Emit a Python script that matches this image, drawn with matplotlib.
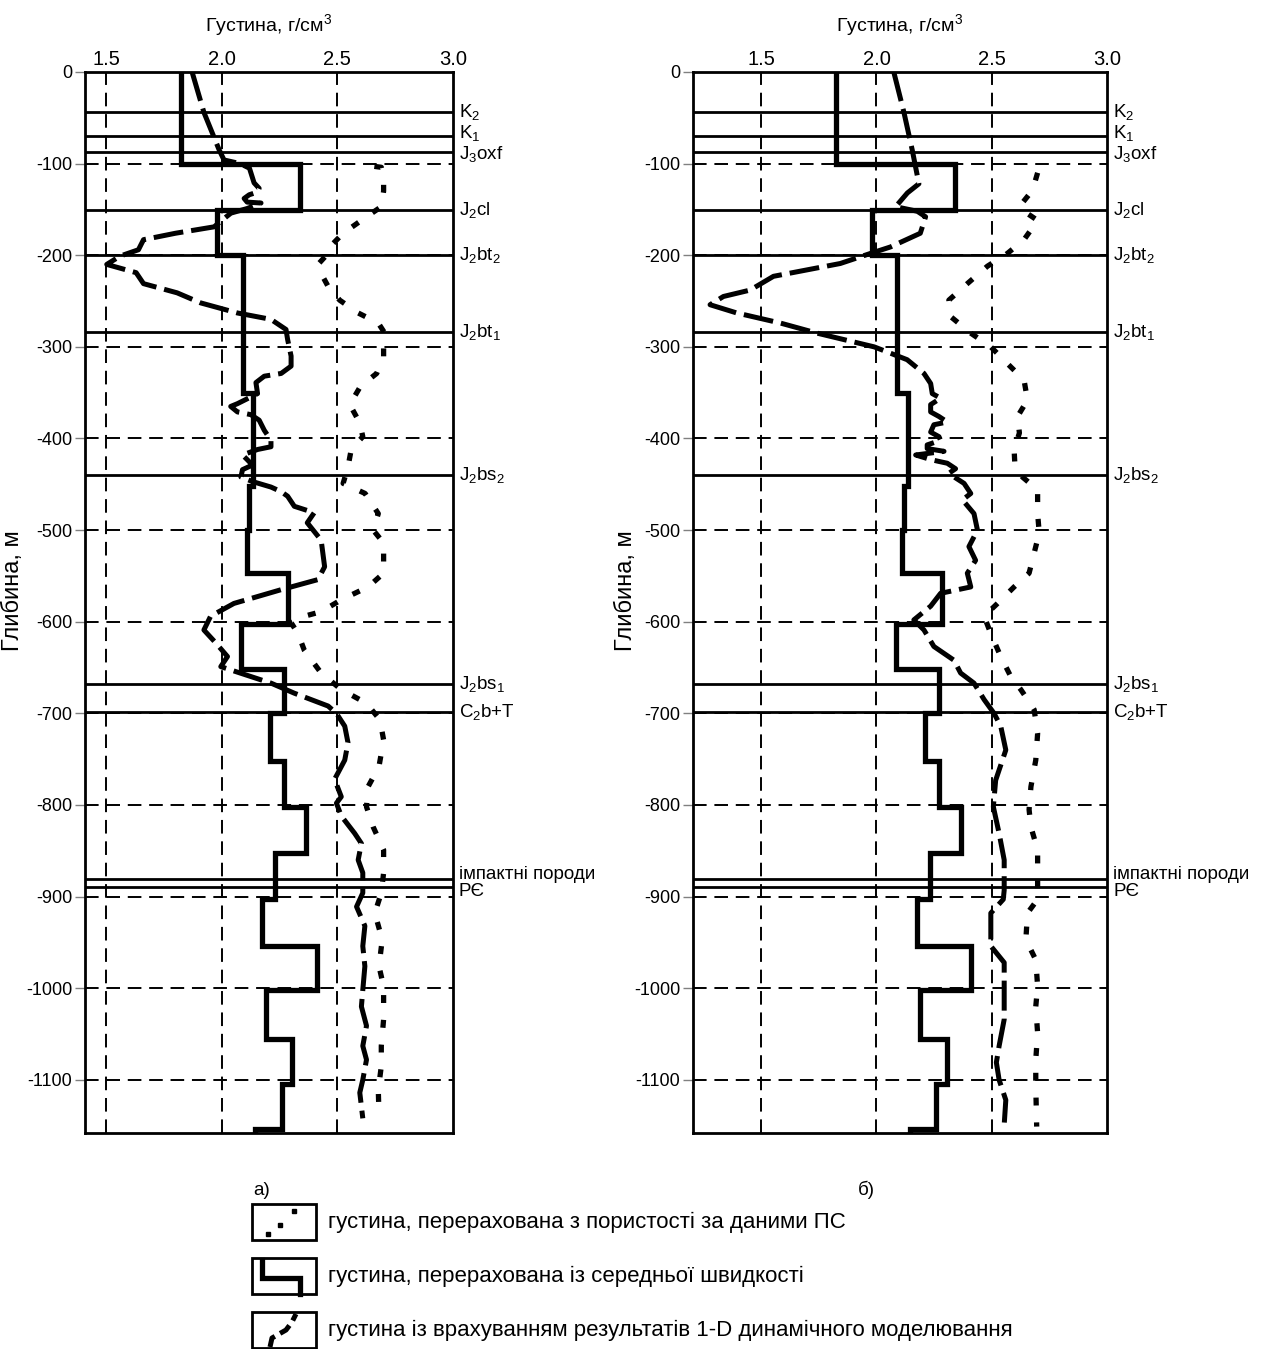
import matplotlib
matplotlib.use("Agg")
import matplotlib.pyplot as plt
from matplotlib.patches import Rectangle

plt.rcParams["font.family"] = ["Liberation Sans", "DejaVu Sans"]
plt.rcParams["mathtext.default"] = "regular"
plt.rcParams["axes.unicode_minus"] = False

# --- стратиграфічні межі, м ---
horizon_depth = [-44, -70, -87, -151, -200, -284, -440, -668, -699, -881, -889]
horizon_label = ["K$_2$", "K$_1$", "J$_3$oxf", "J$_2$cl", "J$_2$bt$_2$", "J$_2$bt$_1$",
                 "J$_2$bs$_2$", "J$_2$bs$_1$", "C$_2$b+T", "імпактні породи", "PЄ"]
label_shift = [0, 3, -2, 0, 0, 0, 0, 0, 0, 5, -5]

# --- густина із середньої швидкості (ступінчаста), покрівля / густина ---
step_top = [0, -100, -151, -200, -350, -452, -500, -547, -602, -652, -700, -752,
            -802, -852, -903, -954, -1002, -1055, -1105, -1154]
step_rho = [1.825, 2.34, 1.98, 2.09, 2.135, 2.12, 2.11, 2.285, 2.085, 2.27, 2.21, 2.27,
            2.365, 2.23, 2.175, 2.41, 2.19, 2.305, 2.26, 2.145]
depth_bottom = -1158

# --- а) густина з пористості за даними ПС ---
a_ps_depth = [-103, -104, -115, -130, -147, -158, -176, -191, -198, -209, -220, -234,
              -249, -263, -274, -285, -300, -311, -329, -343, -363, -383, -398, -412,
              -431, -449, -460, -482, -500, -514, -547, -562, -576, -589, -594, -601,
              -613, -631, -656, -674, -689, -707, -729, -758, -780, -802, -824, -849,
              -874, -896, -918, -947, -976, -998, -1034, -1063, -1085, -1111, -1138]
a_ps_rho = [2.66, 2.69, 2.70, 2.70, 2.69, 2.626, 2.525, 2.467, 2.46, 2.42, 2.43, 2.46,
            2.51, 2.59, 2.677, 2.705, 2.70, 2.70, 2.67, 2.60, 2.554, 2.597, 2.61, 2.56,
            2.546, 2.525, 2.62, 2.677, 2.655, 2.70, 2.70, 2.633, 2.517, 2.43, 2.357, 2.30,
            2.33, 2.357, 2.43, 2.517, 2.626, 2.684, 2.70, 2.68, 2.633, 2.626, 2.655, 2.70,
            2.70, 2.69, 2.662, 2.694, 2.68, 2.70, 2.70, 2.69, 2.69, 2.677, 2.68]

# --- а) густина з 1-D динамічного моделювання ---
a_dyn_depth = [0, -44, -85, -96, -100, -105, -121, -127, -131, -134, -138, -142, -143,
               -149, -154, -158, -169, -176, -183, -194, -201, -210, -219, -231, -241,
               -252, -263, -270, -281, -292, -310, -321, -329, -332, -339, -351, -362,
               -365, -371, -374, -380, -391, -402, -409, -412, -418, -423, -429, -434,
               -442, -447, -453, -458, -463, -474, -481, -492, -511, -540, -554, -565,
               -580, -594, -609, -623, -638, -649, -656, -667, -678, -692, -700, -714,
               -732, -751, -772, -791, -798, -812, -831, -842, -860, -874, -896, -911,
               -932, -954, -976, -1002, -1020, -1041, -1063, -1078, -1100, -1114,
               -1129, -1142]
a_dyn_rho = [1.872, 1.923, 1.989, 2.01, 2.08, 2.12, 2.14, 2.162, 2.155, 2.119, 2.097,
             2.11, 2.17, 2.11, 2.04, 2.02, 1.967, 1.80, 1.662, 1.64, 1.56, 1.503, 1.63,
             1.662, 1.807, 1.909, 2.068, 2.213, 2.278, 2.285, 2.30, 2.30, 2.257, 2.184,
             2.148, 2.155, 2.068, 2.039, 2.068, 2.126, 2.162, 2.184, 2.213, 2.213, 2.155,
             2.09, 2.11, 2.133, 2.09, 2.083, 2.133, 2.213, 2.257, 2.285, 2.314, 2.40,
             2.37, 2.43, 2.445, 2.416, 2.257, 2.053, 1.952, 1.923, 1.974, 2.025, 1.996,
             2.08, 2.213, 2.314, 2.46, 2.496, 2.532, 2.546, 2.532, 2.488, 2.517, 2.496,
             2.517, 2.575, 2.604, 2.59, 2.61, 2.61, 2.583, 2.619, 2.61, 2.619, 2.61,
             2.604, 2.626, 2.61, 2.626, 2.61, 2.597, 2.604, 2.61]

# --- б) густина з пористості за даними ПС ---
b_ps_depth = [-110, -129, -145, -152, -162, -183, -198, -212, -231, -249, -267, -285,
              -300, -322, -336, -358, -376, -394, -412, -427, -442, -456, -482, -503,
              -525, -547, -562, -580, -594, -613, -638, -660, -674, -693, -696, -722,
              -751, -780, -805, -824, -849, -889, -903, -918, -947, -969, -998, -1020,
              -1049, -1078, -1107, -1151]
b_ps_rho = [2.699, 2.677, 2.626, 2.64, 2.699, 2.64, 2.568, 2.481, 2.394, 2.314, 2.322,
            2.409, 2.496, 2.583, 2.64, 2.655, 2.612, 2.62, 2.597, 2.60, 2.633, 2.699,
            2.699, 2.706, 2.684, 2.662, 2.597, 2.525, 2.467, 2.496, 2.539, 2.583, 2.626,
            2.677, 2.684, 2.699, 2.691, 2.67, 2.662, 2.67, 2.699, 2.699, 2.699, 2.655,
            2.648, 2.691, 2.699, 2.691, 2.699, 2.691, 2.691, 2.695]

# --- б) густина з 1-D динамічного моделювання ---
b_dyn_depth = [0, -44, -85, -122, -132, -147, -152, -158, -176, -191, -198, -209, -223,
               -238, -245, -254, -263, -274, -285, -300, -314, -329, -340, -351, -356,
               -363, -371, -376, -382, -385, -393, -398, -402, -407, -411, -414, -418,
               -423, -425, -427, -433, -438, -443, -449, -460, -467, -482, -500, -518,
               -533, -547, -562, -569, -583, -598, -609, -627, -642, -656, -667, -685,
               -700, -714, -740, -773, -802, -831, -860, -893, -903, -918, -954, -972,
               -1002, -1034, -1063, -1081, -1100, -1122, -1149]
b_dyn_rho = [2.075, 2.119, 2.155, 2.184, 2.134, 2.083, 2.177, 2.213, 2.19, 2.06, 1.974,
             1.843, 1.553, 1.452, 1.336, 1.278, 1.394, 1.583, 1.742, 1.99, 2.133, 2.206,
             2.235, 2.242, 2.278, 2.235, 2.235, 2.271, 2.307, 2.249, 2.235, 2.271, 2.278,
             2.22, 2.22, 2.293, 2.17, 2.235, 2.27, 2.307, 2.343, 2.314, 2.343, 2.38,
             2.409, 2.373, 2.423, 2.438, 2.401, 2.43, 2.394, 2.409, 2.278, 2.235, 2.162,
             2.206, 2.249, 2.336, 2.365, 2.423, 2.467, 2.51, 2.539, 2.561, 2.517, 2.507,
             2.532, 2.554, 2.554, 2.55, 2.496, 2.496, 2.554, 2.554, 2.554, 2.532, 2.52,
             2.532, 2.561, 2.554]

x_ticks = [1.5, 2.0, 2.5, 3.0]
y_ticks = list(range(0, -1200, -100))


def step_xy(tops, rhos, bottom):
    """Ступінчаста крива: вертикальні відрізки по шарах + горизонтальні переходи."""
    xs, ys = [], []
    bases = tops[1:] + [bottom]
    for top, base, rho in zip(tops, bases, rhos):
        xs += [rho, rho]
        ys += [top, base]
    return xs, ys


def draw_panel(ax, xlim, ps, dyn, tag, tag_x, ylab_x):
    ax.set_xlim(*xlim)
    ax.set_ylim(depth_bottom, 0)

    # сітка
    for xv in x_ticks[:-1]:
        ax.axvline(xv, color="black", lw=1.4, ls=(0, (7, 4)), zorder=1)
    for yv in y_ticks[1:]:
        ax.axhline(yv, color="black", lw=1.4, ls=(0, (7, 4)), zorder=1)

    # стратиграфічні межі
    for d, lab, sh in zip(horizon_depth, horizon_label, label_shift):
        ax.axhline(d, color="black", lw=2.0, zorder=2)
        ax.text(1.015, d + sh, lab, transform=ax.get_yaxis_transform(),
                ha="left", va="center", fontsize=13.5, clip_on=False)

    sx, sy = step_xy(step_top, step_rho, depth_bottom)
    ax.plot(sx, sy, color="black", lw=3.8, solid_joinstyle="miter", zorder=4)
    ax.plot(ps[0], ps[1], color="black", lw=3.8, ls=(0, (1.5, 3.2)),
            dash_capstyle="butt", zorder=3)
    ax.plot(dyn[0], dyn[1], color="black", lw=3.6, ls=(0, (6, 1.6)),
            dash_capstyle="butt", zorder=3)

    ax.xaxis.tick_top()
    ax.xaxis.set_label_position("top")
    ax.set_xticks(x_ticks)
    ax.set_xticklabels([f"{v:.1f}" for v in x_ticks])
    ax.tick_params(axis="x", length=0, pad=2, labelsize=14.5)
    ax.set_yticks(y_ticks)
    ax.set_yticklabels([str(v) for v in y_ticks])
    ax.tick_params(axis="y", length=7, width=1, color="gray", pad=2, labelsize=13)
    ax.set_xlabel("Густина, г/см$^3$", fontsize=14, labelpad=14)
    ax.set_ylabel("Глибина, м", fontsize=17)
    ax.yaxis.set_label_coords(ylab_x, 0.511)
    for sp in ax.spines.values():
        sp.set_linewidth(2.0)
    ax.text(tag_x, -0.054, tag, transform=ax.transAxes, ha="center", va="center",
            fontsize=13.5)


fig = plt.figure(figsize=(12.72, 13.49), dpi=100)
ax_a = fig.add_axes([85 / 1272, 1 - 1133 / 1349, 368 / 1272, 1061 / 1349])
ax_b = fig.add_axes([693 / 1272, 1 - 1133 / 1349, 414 / 1272, 1061 / 1349])

draw_panel(ax_a, (1.409, 3.0), (a_ps_rho, a_ps_depth), (a_dyn_rho, a_dyn_depth),
           "а)", 0.481, -0.166)
draw_panel(ax_b, (1.204, 3.0), (b_ps_rho, b_ps_depth), (b_dyn_rho, b_dyn_depth),
           "б)", 0.418, -0.135)

# легенда з умовними позначеннями у рамках
leg = fig.add_axes([0, 0, 1, 1], facecolor="none")
leg.set_xlim(0, 1272)
leg.set_ylim(1349, 0)
leg.axis("off")

legend_text = ["густина, перерахована з пористості за даними ПС",
               "густина, перерахована із середньої швидкості",
               "густина із врахуванням результатів 1-D динамічного моделювання"]
for i, txt in enumerate(legend_text):
    y0 = 1204 + i * 54
    leg.add_patch(Rectangle((252, y0), 64, 36, fill=False, lw=2.0, ec="black"))
    leg.text(328, y0 + 18, txt, ha="left", va="center", fontsize=16)

# зразки ліній у рамках
leg.plot([268, 280, 294], [1234, 1225, 1211], ls="none", marker="s", ms=3.5, color="black")
leg.plot([262, 262, 300, 300], [1260, 1278, 1278, 1294], color="black", lw=3.8,
         solid_joinstyle="miter")
leg.plot([270, 272, 286, 292, 296], [1347, 1338, 1330, 1322, 1314], color="black",
         lw=3.6, ls=(0, (2.5, 1.2)))

fig.savefig("out.png", dpi=100)
